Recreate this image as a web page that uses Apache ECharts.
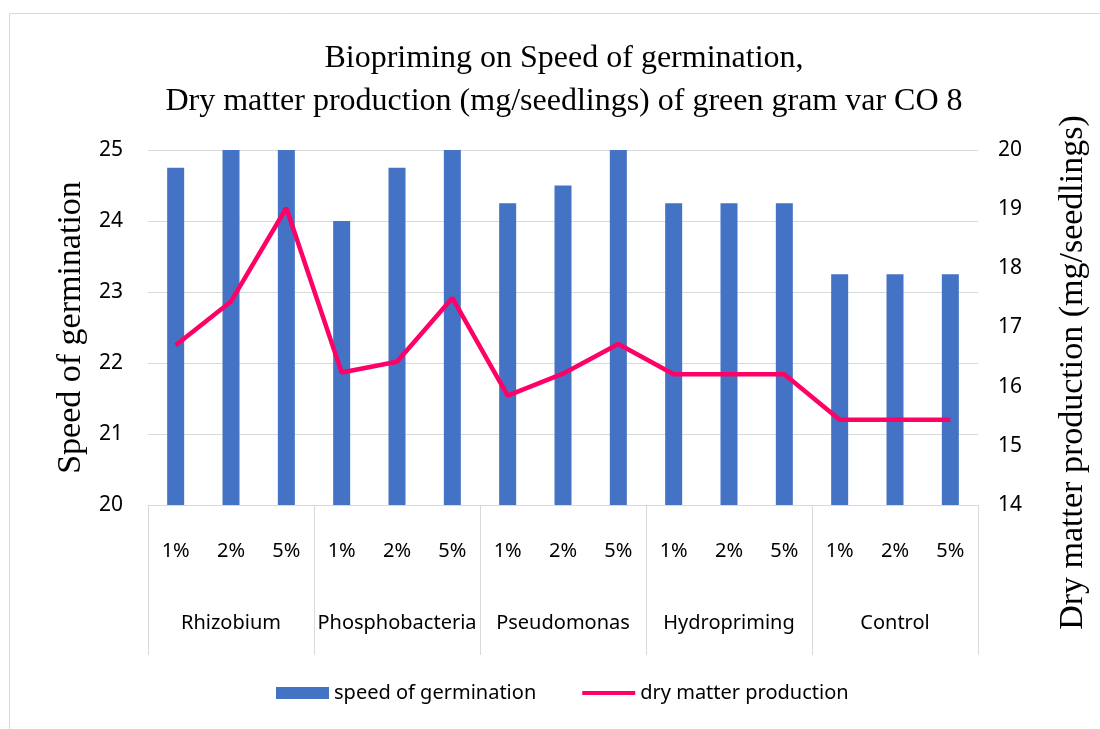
<!DOCTYPE html>
<html>
<head>
<meta charset="utf-8">
<script src="https://cdn.jsdelivr.net/npm/echarts@6/dist/echarts.min.js"></script>
<style>
  html, body { margin: 0; padding: 0; background: #fff; }
  #main { width: 1100px; height: 729px; }
</style>
</head>
<body>
<div id="main"></div>
<script>
var groups = ['Rhizobium', 'Phosphobacteria', 'Pseudomonas', 'Hydropriming', 'Control'];
var doses = ['1%', '2%', '5%'];
var speed = [24.75, 25, 25, 24, 24.75, 25, 24.25, 24.5, 25, 24.25, 24.25, 24.25, 23.25, 23.25, 23.25];
var dryMatter = [16.7, 17.44, 19.02, 16.24, 16.42, 17.5, 15.85, 16.22, 16.72, 16.21, 16.21, 16.21, 15.44, 15.44, 15.44];

var categories = [];
groups.forEach(function () {
    doses.forEach(function (d) { categories.push(d); });
});

var myChart = echarts.init(document.getElementById('main'));

var labelFont = 'Noto Sans, Open Sans, sans-serif';
var serif = 'Liberation Serif, DejaVu Serif, serif';

var option = {
    animation: false,
    title: {
        text: 'Biopriming on Speed of germination,\nDry matter production (mg/seedlings) of green gram var CO 8',
        left: 559,
        textAlign: 'center',
        top: 32,
        textStyle: {
            fontFamily: serif,
            fontWeight: 'normal',
            fontSize: 32,
            lineHeight: 43,
            color: '#000'
        }
    },
    graphic: [{
        type: 'rect',
        shape: { x: 9.5, y: 13.5, width: 1100, height: 730 },
        style: { fill: 'none', stroke: '#d9d9d9', lineWidth: 1 },
        silent: true
    }],
    legend: {
        bottom: 21,
        left: 271,
        itemGap: 46,
        itemWidth: 53,
        itemHeight: 12,
        textStyle: { fontFamily: labelFont, fontSize: 20, color: '#000' },
        data: [
            { name: 'speed of germination', icon: 'rect' },
            { name: 'dry matter production', icon: 'path://M0,0L53,0L53,4L0,4Z' }
        ]
    },
    grid: {
        left: 148,
        right: 122,
        top: 150,
        bottom: 224
    },
    xAxis: [
        {
            type: 'category',
            data: categories,
            position: 'bottom',
            axisLine: { show: true, lineStyle: { color: '#d9d9d9' } },
            axisTick: { show: false },
            axisLabel: {
                interval: 0,
                margin: 36,
                fontFamily: labelFont,
                fontSize: 20,
                color: '#000'
            }
        },
        {
            type: 'category',
            data: groups,
            position: 'bottom',
            axisLine: { show: false },
            axisTick: {
                show: true,
                length: 150,
                lineStyle: { color: '#d9d9d9' }
            },
            axisLabel: {
                interval: 0,
                margin: 108,
                fontFamily: labelFont,
                fontSize: 20,
                color: '#000'
            }
        }
    ],
    yAxis: [
        {
            type: 'value',
            min: 20,
            max: 25,
            interval: 1,
            name: 'Speed of germination',
            nameLocation: 'middle',
            nameRotate: 90,
            nameGap: 57,
            nameTextStyle: { fontFamily: serif, fontSize: 34, color: '#000' },
            axisLine: { show: false },
            axisTick: { show: false },
            axisLabel: { fontFamily: labelFont, fontSize: 21, color: '#000', margin: 25 },
            splitLine: { lineStyle: { color: '#d9d9d9' } }
        },
        {
            type: 'value',
            min: 14,
            max: 20,
            interval: 1,
            name: 'Dry matter production (mg/seedlings)',
            nameLocation: 'middle',
            nameRotate: 90,
            nameGap: 78,
            nameTextStyle: { fontFamily: serif, fontSize: 34, color: '#000', padding: [0, 90, 0, 0] },
            axisLine: { show: false },
            axisTick: { show: false },
            axisLabel: { fontFamily: labelFont, fontSize: 21, color: '#000', margin: 20 },
            splitLine: { show: false }
        }
    ],
    series: [
        {
            name: 'speed of germination',
            type: 'bar',
            data: speed,
            barWidth: 17,
            itemStyle: { color: '#4472C4' }
        },
        {
            name: 'dry matter production',
            type: 'line',
            yAxisIndex: 1,
            data: dryMatter,
            symbol: 'none',
            lineStyle: { color: '#FF0066', width: 4.5 },
            itemStyle: { color: '#FF0066' }
        }
    ]
};

myChart.setOption(option);
</script>
</body>
</html>
